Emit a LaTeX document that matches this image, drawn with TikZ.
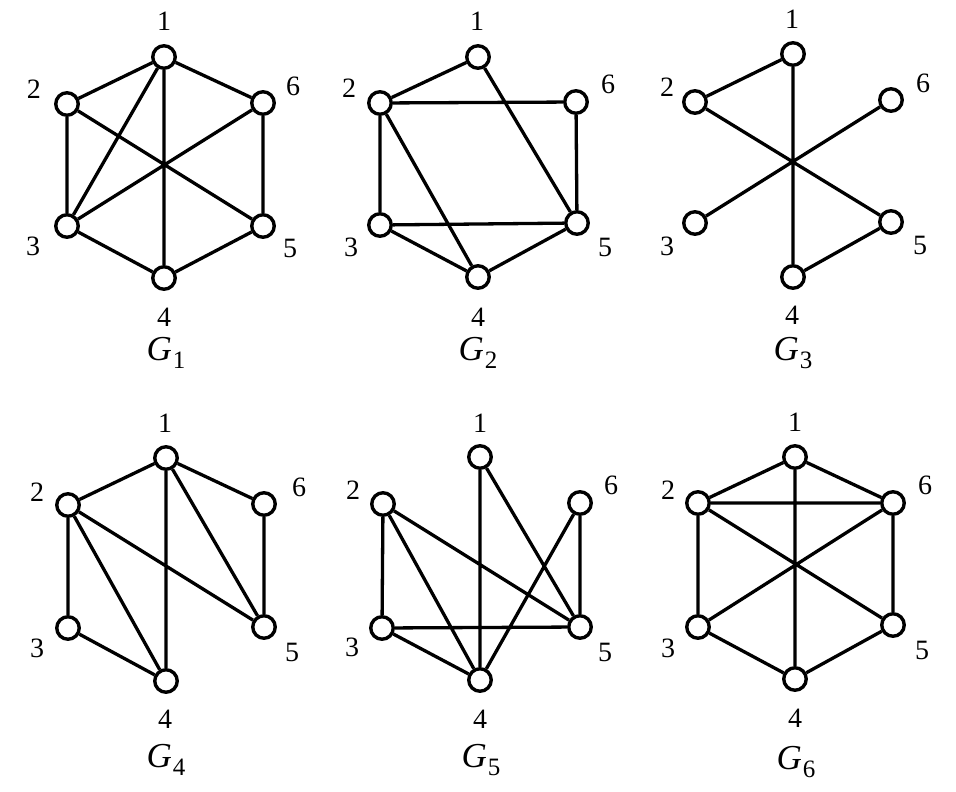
\documentclass[tikz,border=0pt]{standalone}
\usepackage{fontspec}
\setmainfont{Liberation Serif}
\begin{document}
\begin{tikzpicture}[x=1pt,y=-1pt,
  v/.style={circle,draw,line width=3.4pt,minimum size=22.5pt,inner sep=0pt,fill=white},
  lab/.style={font=\fontsize{28}{28}\selectfont,inner sep=0pt},
  gname/.style={font=\fontsize{35}{35}\selectfont,inner sep=0pt},
  e/.style={line width=3.3pt}]
\useasboundingbox (0,0) rectangle (956,792);
\newcommand{\gn}[1]{\textit{G}\kern1pt\raisebox{-0.22em}{\fontsize{25}{25}\selectfont #1}}
% ---------- G1 ----------
\node[v] (a1) at (164,57) {};
\node[v] (a2) at (67,104) {};
\node[v] (a6) at (263,103) {};
\node[v] (a3) at (67,226) {};
\node[v] (a5) at (263,226) {};
\node[v] (a4) at (164,278) {};
\node[lab] (la1) at (164,21) {1};
\node[lab] (la2) at (34,89) {2};
\node[lab] (la6) at (293,86) {6};
\node[lab] (la3) at (33,246) {3};
\node[lab] (la5) at (290,248) {5};
\node[lab] (la4) at (164,317) {4};
\node[gname] (ta) at (166,353) {\gn{1}};
\draw[e] (a1)--(a2) (a1)--(a6) (a2)--(a3) (a6)--(a5) (a3)--(a4) (a4)--(a5)
         (a1)--(a4) (a1)--(a3) (a2)--(a5) (a3)--(a6);
% ---------- G2 ----------
\node[v] (b1) at (478,57) {};
\node[v] (b2) at (380,103) {};
\node[v] (b6) at (576,102) {};
\node[v] (b3) at (380,225) {};
\node[v] (b5) at (577,223) {};
\node[v] (b4) at (478,277) {};
\node[lab] (lb1) at (477,21) {1};
\node[lab] (lb2) at (349,88) {2};
\node[lab] (lb6) at (608,84) {6};
\node[lab] (lb3) at (351,247) {3};
\node[lab] (lb5) at (605,247) {5};
\node[lab] (lb4) at (478,317) {4};
\node[gname] (tb) at (478,353) {\gn{2}};
\draw[e] (b1)--(b2) (b2)--(b6) (b6)--(b5) (b1)--(b5) (b2)--(b3) (b2)--(b4)
         (b3)--(b5) (b3)--(b4) (b4)--(b5);
% ---------- G3 ----------
\node[v] (c1) at (793,54) {};
\node[v] (c2) at (695,102) {};
\node[v] (c6) at (891,100) {};
\node[v] (c3) at (695,223) {};
\node[v] (c5) at (891,222) {};
\node[v] (c4) at (793,277) {};
\node[lab] (lc1) at (792,19) {1};
\node[lab] (lc2) at (667,87) {2};
\node[lab] (lc6) at (923,83) {6};
\node[lab] (lc3) at (667,246) {3};
\node[lab] (lc5) at (920,245) {5};
\node[lab] (lc4) at (792,315) {4};
\node[gname] (tc) at (793,353) {\gn{3}};
\draw[e] (c1)--(c2) (c1)--(c4) (c2)--(c5) (c3)--(c6) (c4)--(c5);
% ---------- G4 ----------
\node[v] (d1) at (166,458) {};
\node[v] (d2) at (68,505) {};
\node[v] (d6) at (264,504) {};
\node[v] (d3) at (68,628) {};
\node[v] (d5) at (264,627) {};
\node[v] (d4) at (166,681) {};
\node[lab] (ld1) at (165,423) {1};
\node[lab] (ld2) at (37,492) {2};
\node[lab] (ld6) at (299,487) {6};
\node[lab] (ld3) at (37,648) {3};
\node[lab] (ld5) at (292,652) {5};
\node[lab] (ld4) at (165,719) {4};
\node[gname] (td) at (166,760) {\gn{4}};
\draw[e] (d1)--(d2) (d1)--(d6) (d1)--(d4) (d1)--(d5) (d2)--(d3) (d2)--(d4)
         (d2)--(d5) (d3)--(d4) (d6)--(d5);
% ---------- G5 ----------
\node[v] (e1) at (480,457) {};
\node[v] (e2) at (383,504) {};
\node[v] (e6) at (580,503) {};
\node[v] (e3) at (382,628) {};
\node[v] (e5) at (580,627) {};
\node[v] (e4) at (480,680) {};
\node[lab] (le1) at (480,423) {1};
\node[lab] (le2) at (353,490) {2};
\node[lab] (le6) at (611,485) {6};
\node[lab] (le3) at (352,647) {3};
\node[lab] (le5) at (605,652) {5};
\node[lab] (le4) at (480,719) {4};
\node[gname] (te) at (481,760) {\gn{5}};
\draw[e] (e1)--(e4) (e1)--(e5) (e2)--(e3) (e2)--(e4) (e2)--(e5) (e3)--(e5)
         (e3)--(e4) (e6)--(e4) (e6)--(e5);
% ---------- G6 ----------
\node[v] (f1) at (795,457) {};
\node[v] (f2) at (698,503) {};
\node[v] (f6) at (893,503) {};
\node[v] (f3) at (698,627) {};
\node[v] (f5) at (893,625) {};
\node[v] (f4) at (795,679) {};
\node[lab] (lf1) at (795,422) {1};
\node[lab] (lf2) at (668,490) {2};
\node[lab] (lf6) at (925,485) {6};
\node[lab] (lf3) at (668,648) {3};
\node[lab] (lf5) at (922,650) {5};
\node[lab] (lf4) at (795,718) {4};
\node[gname] (tf) at (796,762) {\gn{6}};
\draw[e] (f1)--(f2) (f1)--(f6) (f2)--(f6) (f1)--(f4) (f2)--(f3) (f2)--(f5)
         (f3)--(f6) (f3)--(f4) (f6)--(f5) (f4)--(f5);
\end{tikzpicture}
\end{document}
